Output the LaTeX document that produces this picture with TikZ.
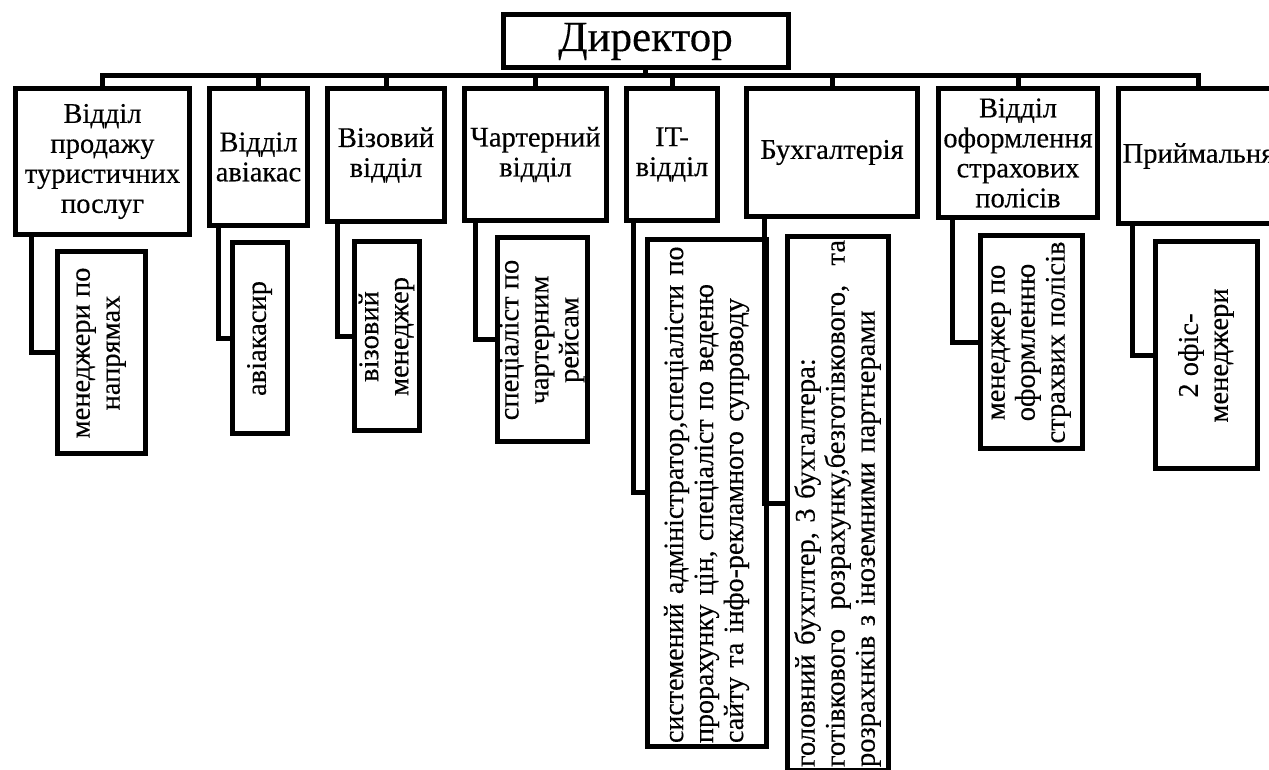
\documentclass[tikz,border=0pt]{standalone}
\usepackage{fontspec}
\setmainfont{Liberation Serif}[FakeBold=0.3]

\begin{document}
\begin{tikzpicture}[x=1pt, y=1pt,
    dept/.style={rectangle, draw, line width=5pt, anchor=north west, inner sep=0pt,
                 align=center, font=\fontsize{28.5}{30}\selectfont},
    staff/.style={rectangle, draw, line width=5pt, rotate=90, inner sep=0pt,
                  align=center, font=\fontsize{28.5}{30}\selectfont},
    link/.style={line width=5pt}
]
\useasboundingbox (0,0) rectangle (1269,769);
\fill[white] (0,0) rectangle (1269,769);
\clip (0,0) rectangle (1269,769);

\node[rectangle, draw, line width=5pt, minimum width=285pt, minimum height=53pt,
      font=\fontsize{43}{46}\selectfont] (dir) at (645.5,727.5) {Директор};

\node[dept, minimum width=174pt, minimum height=146pt] (d1) at (13,683)   {Відділ\\ продажу\\ туристичних\\ послуг};
\node[dept, minimum width=98pt,  minimum height=137pt] (d2) at (207,683)  {Відділ\\ авіакас};
\node[dept, minimum width=117pt, minimum height=133pt] (d3) at (325,683)  {Візовий\\ відділ};
\node[dept, minimum width=142pt, minimum height=132pt] (d4) at (462,683)  {Чартерний\\ відділ};
\node[dept, minimum width=91pt,  minimum height=132pt] (d5) at (624,683)  {IT-\\ відділ};
\node[dept, minimum width=171pt, minimum height=128pt] (d6) at (744,683)  {Бухгалтерія};
\node[dept, minimum width=159pt, minimum height=129pt] (d7) at (936,683)  {Відділ\\ оформлення\\ страхових\\ полісів};
\node[dept, minimum width=160pt, minimum height=135pt] (d8) at (1116,683) {Приймальня};

\node[staff, minimum width=202pt, minimum height=88pt]  (s1) at (101,416)   {менеджери по\\ напрямах};
\node[staff, minimum width=191pt, minimum height=55pt]  (s2) at (259.5,430.5) {авіакасир};
\node[staff, minimum width=189pt, minimum height=65pt]  (s3) at (386.5,432.5) {візовий\\ менеджер};
\node[staff, minimum width=204pt, minimum height=90pt]  (s4) at (542,429)   {спеціаліст по\\ чартерним\\ рейсам};
\node[staff, minimum width=506pt, minimum height=119pt, inner xsep=3pt, text width=500pt, align=left,
      font=\fontsize{28}{30}\selectfont]
     (s5) at (706.5,276) {системений адміністратор,спеціалісти по\\ прорахунку цін, спеціаліст по веденю\\ сайту та інфо-рекламного супроводу};
\node[staff, minimum width=533pt, minimum height=101pt, inner xsep=3pt, text width=527pt, align=left]
     (s6) at (837.5,265.5) {головний бухглтер, 3 бухгалтера:\\ готівкового \hfill розрахунку,безготівкового, \hfill та\\ розрахнків з іноземними партнерами};
\node[staff, minimum width=213pt, minimum height=102pt] (s7) at (1031,426.5) {менеджер по\\ оформленню\\ страхвих полісів};
\node[staff, minimum width=227pt, minimum height=102pt] (s8) at (1206,413.5) {2 офіс-\\ менеджери};

\coordinate (bus) at (0,693);
\draw[link] (dir.south) -- (dir.south |- bus);
\draw[link] (d1.north) |- (bus -| d8.north) -- (d8.north);
\foreach \d in {d2,d3,d4,d5,d6,d7}
    \draw[link] (\d.north) -- (\d.north |- bus);

\draw[link] ([xshift=18pt]d1.south west) |- (s1.north);
\draw[link] ([xshift=11pt]d2.south west) |- (s2.north);
\draw[link] ([xshift=12pt]d3.south west) |- (s3.north);
\draw[link] ([xshift=13pt]d4.south west) |- (s4.north);
\draw[link] ([xshift=9pt]d5.south west)  |- (s5.north);
\draw[link] ([xshift=20pt]d6.south west) |- (s6.north);
\draw[link] ([xshift=16pt]d7.south west) |- (s7.north);
\draw[link] ([xshift=16pt]d8.south west) |- (s8.north);

\end{tikzpicture}
\end{document}
